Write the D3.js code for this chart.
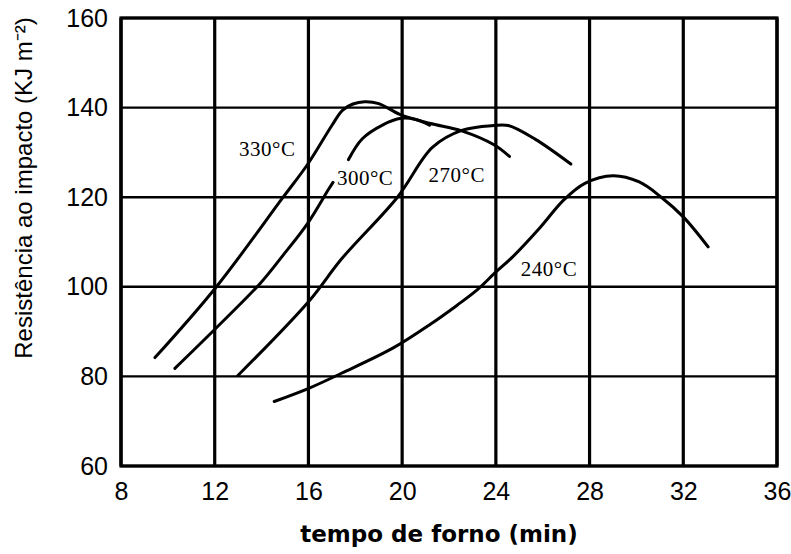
<!DOCTYPE html>
<html>
<head>
<meta charset="utf-8">
<script src="https://cdn.jsdelivr.net/npm/d3@7"></script>
<style>
  body { margin: 0; background: #fff; }
  svg { display: block; }
</style>
</head>
<body>
<div id="chart"></div>
<script>
const W = 791;
const H = 554;

const xTicks = [8, 12, 16, 20, 24, 28, 32, 36];
const yTicks = [60, 80, 100, 120, 140, 160];

// tempo (min), resistência (KJ m-2); null = break under the label
const s330 = [[9.45, 84.2], [12.04, 99.8], [14.92, 120], [15.96, 127.3], [17.0, 136.0], [17.45, 139.4],
  [17.9, 140.8], [18.4, 141.3], [19.0, 140.9], [19.9, 138.5], [21.17, 136.5], [22.54, 134.8],
  [23.92, 131.7], [24.58, 129.1]];
const s300 = [[10.3, 81.8], [12.04, 90.7], [13.93, 100.7], [14.88, 106.8], [15.96, 114.1], [16.84, 121.6],
  [17.05, 123.3], null, [17.71, 128.4], [18.29, 133.0], [19.16, 136.1], [19.96, 137.6], [20.54, 137.4],
  [21.17, 136.1]];
const s270 = [[12.99, 80.2], [16.04, 96.9], [17.41, 106.2], [19.8, 120], [21.29, 131.1],
  [22.54, 134.9], [23.92, 136.0], [24.53, 136.0], [25.69, 132.9], [27.2, 127.4]];
const s240 = [[14.54, 74.4], [16.04, 77.4], [17.41, 80.7], [19.6, 86.3], [21.22, 91.7], [22.35, 95.9],
  [23.2, 99.3], [23.96, 103.1], [24.74, 106.8], [25.9, 113.3], [26.9, 119.4], [27.8, 123.1],
  [29.0, 124.8], [30.12, 123.4], [31.06, 120], [32.0, 115.6], [33.06, 108.9]];

const seriesNames = ["330°C", "300°C", "270°C", "240°C"];
const seriesData = [s330, s300, s270, s240];
// label anchor (middle, baseline) in data units
const labelAt = [[14.24, 129.1], [18.42, 122.7], [22.33, 123.3], [26.27, 102.4]];

const margin = { top: 18, right: 14, bottom: 88, left: 121 };

const x = d3.scaleLinear().domain([8, 36]).range([margin.left, W - margin.right]);
const y = d3.scaleLinear().domain([60, 160]).range([H - margin.bottom, margin.top]);

const svg = d3.select("#chart").append("svg")
  .attr("width", W)
  .attr("height", H)
  .attr("viewBox", [0, 0, W, H]);

// grid
svg.append("g")
  .selectAll("line")
  .data(yTicks)
  .join("line")
  .attr("x1", x(8)).attr("x2", x(36))
  .attr("y1", d => y(d)).attr("y2", d => y(d))
  .attr("stroke", "#000")
  .attr("stroke-width", 2.4);

svg.append("g")
  .selectAll("line")
  .data(xTicks)
  .join("line")
  .attr("x1", d => x(d)).attr("x2", d => x(d))
  .attr("y1", y(60)).attr("y2", y(160))
  .attr("stroke", "#000")
  .attr("stroke-width", 3.2);

svg.append("rect")
  .attr("x", x(8)).attr("y", y(160))
  .attr("width", x(36) - x(8)).attr("height", y(60) - y(160))
  .attr("fill", "none")
  .attr("stroke", "#000")
  .attr("stroke-width", 3.2);

// axes (labels only)
const xAxis = svg.append("g")
  .attr("transform", `translate(0,${y(60)})`)
  .call(d3.axisBottom(x).tickValues(xTicks).tickSize(0).tickPadding(16));
const yAxis = svg.append("g")
  .attr("transform", `translate(${x(8)},0)`)
  .call(d3.axisLeft(y).tickValues(yTicks).tickSize(0).tickPadding(13));
[xAxis, yAxis].forEach(g => {
  g.select(".domain").remove();
  g.selectAll("text")
    .attr("font-family", "'Liberation Sans', Arial, sans-serif")
    .attr("font-size", 25)
    .attr("fill", "#000");
});

// curves
const line = d3.line()
  .defined(d => d !== null)
  .x(d => x(d[0]))
  .y(d => y(d[1]))
  .curve(d3.curveCatmullRom.alpha(0.5));

svg.append("g")
  .selectAll("path")
  .data(seriesData)
  .join("path")
  .attr("d", line)
  .attr("fill", "none")
  .attr("stroke", "#000")
  .attr("stroke-width", 3)
  .attr("stroke-linecap", "round");

svg.append("g")
  .selectAll("text")
  .data(seriesNames)
  .join("text")
  .attr("x", (d, i) => x(labelAt[i][0]))
  .attr("y", (d, i) => y(labelAt[i][1]))
  .attr("text-anchor", "middle")
  .attr("font-family", "'Liberation Serif', 'Times New Roman', serif")
  .attr("font-size", 21)
  .attr("letter-spacing", 0.5)
  .attr("fill", "#000")
  .text(d => d);

// titles
svg.append("text")
  .attr("transform", `translate(32,188) rotate(-90)`)
  .attr("text-anchor", "middle")
  .attr("font-family", "'Liberation Sans', Arial, sans-serif")
  .attr("font-size", 24)
  .attr("fill", "#000")
  .text("Resistência ao impacto (KJ m⁻²)");

svg.append("text")
  .attr("x", 439)
  .attr("y", 542)
  .attr("text-anchor", "middle")
  .attr("font-family", "'DejaVu Sans', Verdana, sans-serif")
  .attr("font-weight", "bold")
  .attr("font-size", 23)
  .attr("fill", "#000")
  .text("tempo de forno (min)");
</script>
</body>
</html>
